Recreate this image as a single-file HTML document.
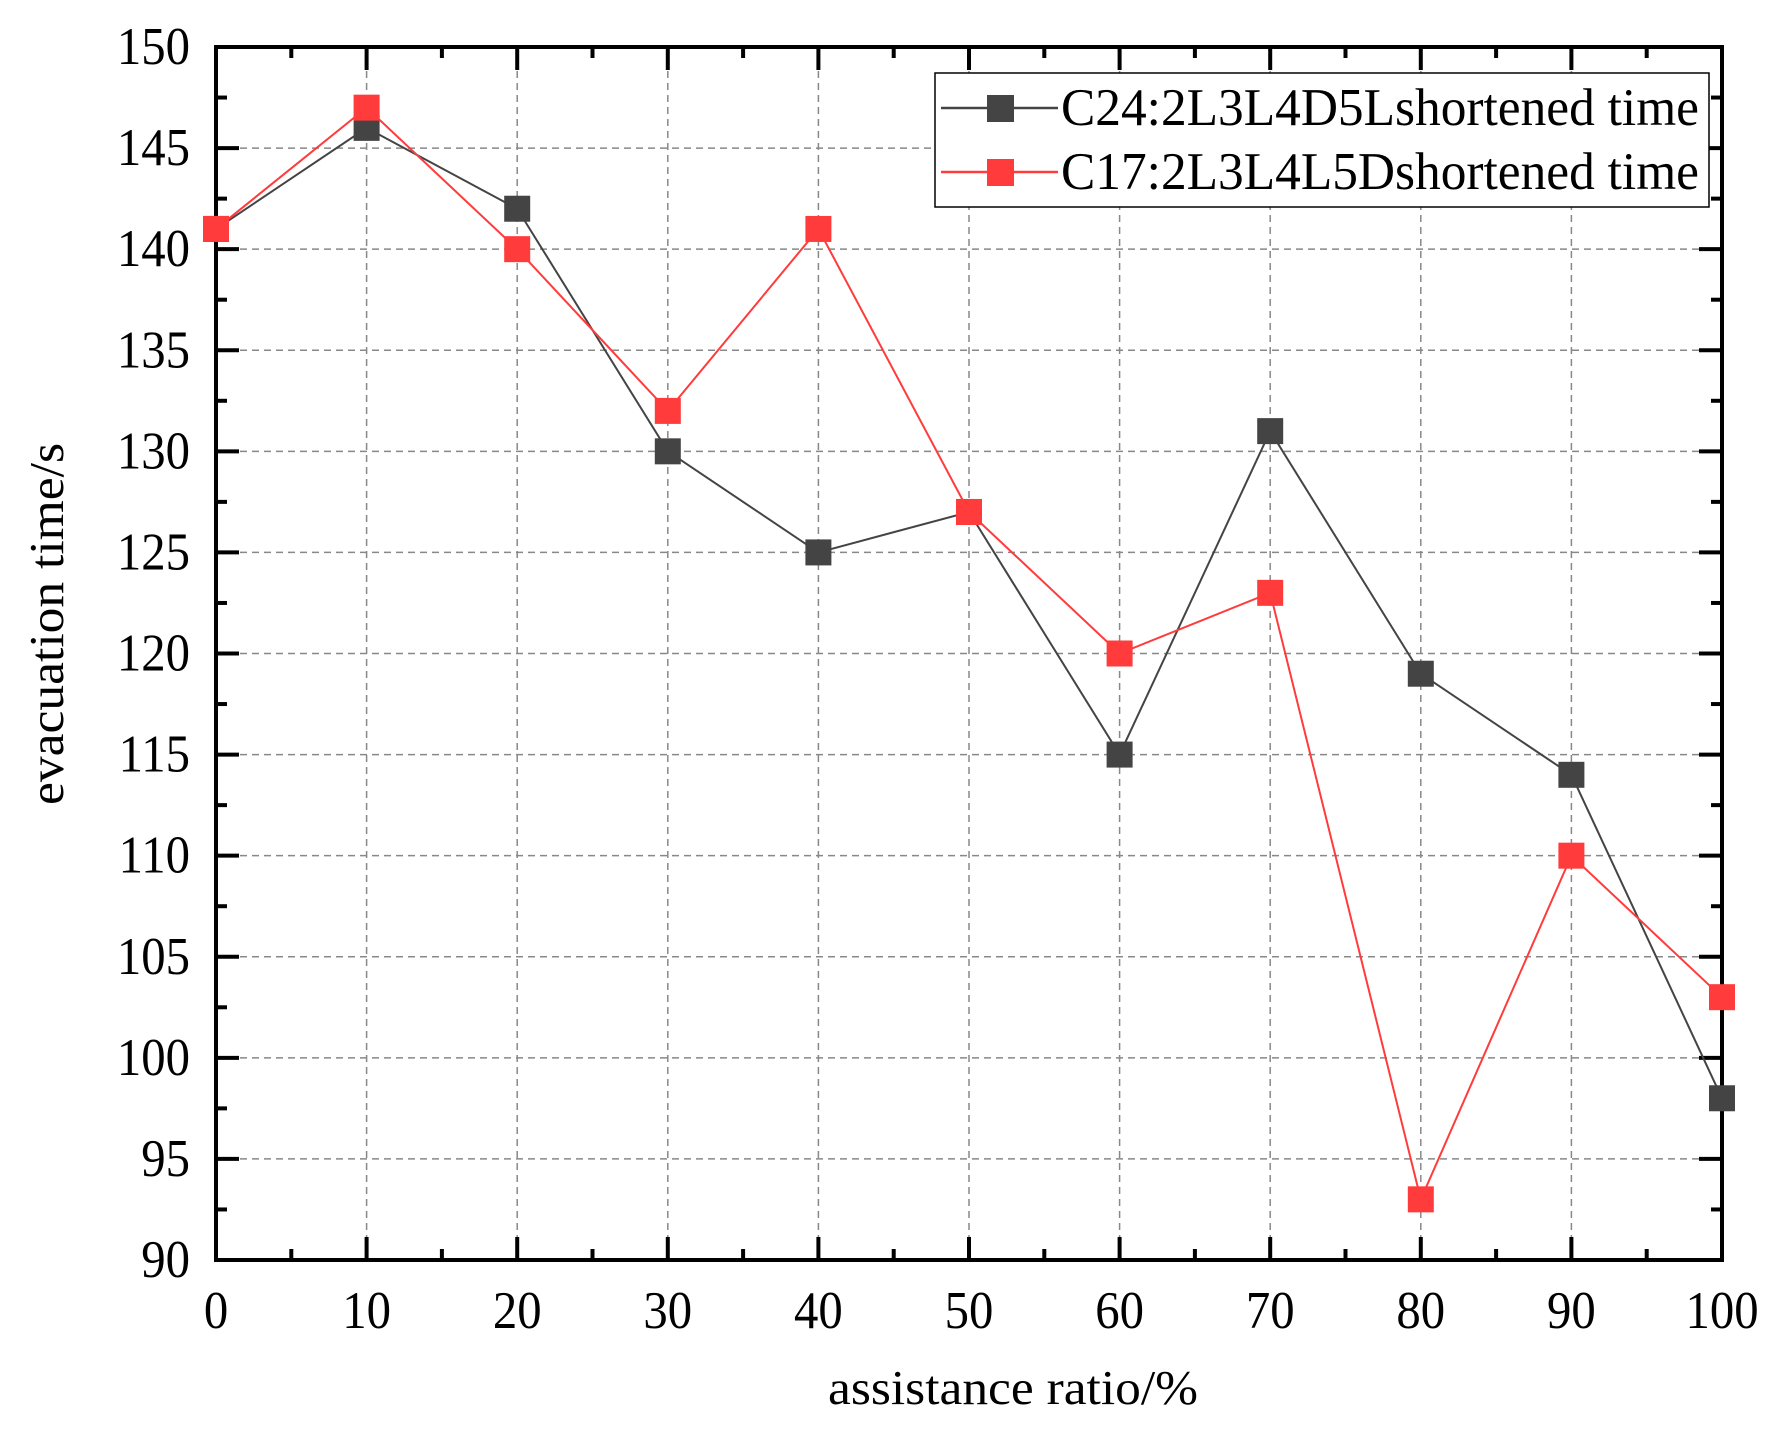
<!DOCTYPE html>
<html><head><meta charset="utf-8"><style>html,body{margin:0;padding:0;background:#fff}svg{display:block}</style></head><body>
<svg id="s" width="1791" height="1437" xmlns="http://www.w3.org/2000/svg" font-family="Liberation Serif, serif"></svg>
<script>
const s=document.getElementById('s');
const X0=216,X1=1722,Y0=1260,Y1=47;
const xp=v=>X0+(X1-X0)*v/100, yp=v=>Y0-(Y0-Y1)*(v-90)/60;
let h='';
for(let i=1;i<10;i++){const x=xp(i*10);h+=`<line x1="${x}" y1="${Y1}" x2="${x}" y2="${Y0}" stroke="#888" stroke-width="1.5" stroke-dasharray="7,5"/>`;}
for(let v=95;v<150;v+=5){const y=yp(v);h+=`<line x1="${X0}" y1="${y}" x2="${X1}" y2="${y}" stroke="#888" stroke-width="1.5" stroke-dasharray="7,5"/>`;}
for(let v=0;v<=100;v+=5){const x=xp(v),L=v%10==0?23:11;
h+=`<line x1="${x}" y1="${Y0}" x2="${x}" y2="${Y0-L}" stroke="#000" stroke-width="4"/><line x1="${x}" y1="${Y1}" x2="${x}" y2="${Y1+L}" stroke="#000" stroke-width="4"/>`;
if(v%10==0)h+=`<text transform="translate(${x},1328) scale(0.92,1)" font-size="53" text-anchor="middle">${v}</text>`;}
for(let v=90;v<=150;v+=2.5){const y=yp(v),L=v%5==0?23:11;
h+=`<line x1="${X0}" y1="${y}" x2="${X0+L}" y2="${y}" stroke="#000" stroke-width="4"/><line x1="${X1}" y1="${y}" x2="${X1-L}" y2="${y}" stroke="#000" stroke-width="4"/>`;
if(v%5==0)h+=`<text transform="translate(190,${y+17}) scale(0.92,1)" font-size="53" text-anchor="end">${v}</text>`;}
h+=`<rect x="${X0}" y="${Y1}" width="${X1-X0}" height="${Y0-Y1}" fill="none" stroke="#000" stroke-width="4"/>`;
const A=[141,146,142,130,125,127,115,131,119,114,98],B=[141,147,140,132,141,127,120,123,93,110,103];
function ser(d,c){let p=d.map((v,i)=>xp(i*10)+','+yp(v)).join(' ');let r=`<polyline points="${p}" fill="none" stroke="${c}" stroke-width="2"/>`;
d.forEach((v,i)=>{r+=`<rect x="${xp(i*10)-13}" y="${yp(v)-13}" width="26" height="26" fill="${c}"/>`});return r;}
h+=ser(A,'#444')+ser(B,'#ff3b3b');
h+=`<rect x="935" y="73" width="774" height="134" fill="#fff" stroke="#000" stroke-width="1.5"/>`;
h+=`<line x1="941" y1="108" x2="1058" y2="108" stroke="#444" stroke-width="2.5"/><rect x="987" y="95" width="27" height="27" fill="#444"/>`;
h+=`<line x1="941" y1="172" x2="1058" y2="172" stroke="#ff3b3b" stroke-width="2.5"/><rect x="987" y="159" width="27" height="27" fill="#ff3b3b"/>`;
h+=`<text x="1061" y="125" font-size="53" textLength="638" lengthAdjust="spacingAndGlyphs">C24:2L3L4D5Lshortened time</text>`;
h+=`<text x="1061" y="189" font-size="53" textLength="638" lengthAdjust="spacingAndGlyphs">C17:2L3L4L5Dshortened time</text>`;
h+=`<text x="1013" y="1404" font-size="49" text-anchor="middle" textLength="370" lengthAdjust="spacingAndGlyphs">assistance ratio/%</text>`;
h+=`<text transform="translate(63,624) rotate(-90)" font-size="49" text-anchor="middle" textLength="362" lengthAdjust="spacingAndGlyphs">evacuation time/s</text>`;
s.innerHTML=h;
</script>
</body></html>
